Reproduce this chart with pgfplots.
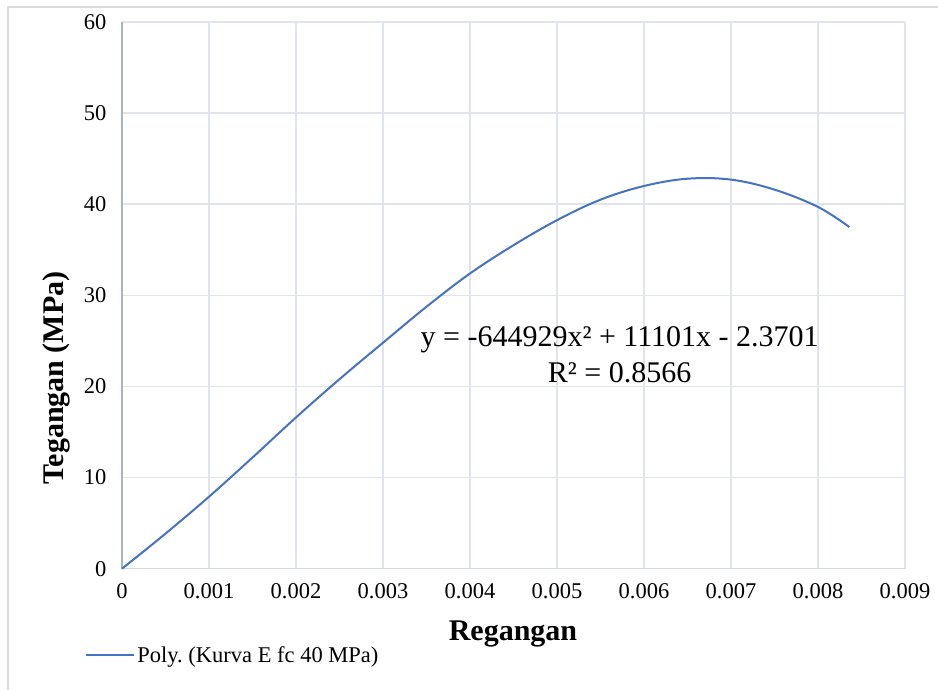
\documentclass[border=0pt]{standalone}
\usepackage{fontspec}
\setmainfont{Liberation Serif}
\usepackage{pgfplots}
\pgfplotsset{compat=1.18}
\definecolor{curveblue}{HTML}{4472C4}
\definecolor{gridgray}{HTML}{E1E4EA}
\definecolor{leftaxis}{HTML}{A9B4C8}
\definecolor{bottomaxis}{HTML}{D3D7DF}
\definecolor{framegray}{HTML}{DADADA}

\begin{document}
\frenchspacing
\begin{tikzpicture}[x=1bp,y=1bp]
\path[use as bounding box] (0,0) rectangle (938,690);
\draw[framegray, line width=1.5bp] (8,0) -- (8,683) -- (938,683);
\begin{axis}[
  at={(122bp,121.3bp)}, anchor=south west,
  scale only axis, width=783bp, height=546.7bp,
  xmin=0, xmax=0.009, ymin=0, ymax=60,
  scaled x ticks=false,
  xtick={0,0.001,0.002,0.003,0.004,0.005,0.006,0.007,0.008,0.009},
  xticklabels={0,0.001,0.002,0.003,0.004,0.005,0.006,0.007,0.008,0.009},
  ytick={0,10,20,30,40,50,60},
  yticklabels={0,10,20,30,40,50,60},
  /pgf/number format/assume math mode=true,
  grid=major,
  major grid style={draw=gridgray, line width=1.5bp},
  axis lines*=left,
  axis line style={-},
  x axis line style={draw=bottomaxis, line width=1.5bp},
  y axis line style={draw=leftaxis, line width=1.5bp},
  tick style={draw=none},
  ticklabel style={font=\fontsize{22.5bp}{27bp}\selectfont},
  xticklabel style={yshift=-11bp},
  yticklabel style={xshift=-12bp},
  legend style={at={(-0.047,-0.158)}, anchor=west, draw=none, fill=none,
    font=\fontsize{22.5bp}{27bp}\selectfont, inner sep=0pt,
    legend cell align=left},
  legend image code/.code={\draw[#1] (0bp,0bp) -- (48bp,0bp);},
  clip=false,
]
% stress-strain curve (strain, stress in MPa)
\addplot[curveblue, line width=2bp, smooth, tension=0.6] coordinates {
  (0,0) (0.0005,3.85) (0.001,7.9) (0.0015,12.2) (0.002,16.6)
  (0.0025,20.8) (0.003,24.8) (0.0035,28.75) (0.004,32.4)
  (0.0045,35.5) (0.005,38.25) (0.0055,40.5) (0.006,42.0)
  (0.0065,42.8) (0.007,42.7) (0.0075,41.6)
  (0.008,39.7) (0.00836,37.5)
};
\addlegendentry{Poly. (Kurva E fc 40 MPa)}
\node[align=center, font=\fontsize{30bp}{36bp}\selectfont]
  at (axis cs:0.00572,23.46)
  {y = -644929x² + 11101x - 2.3701\\R² = 0.8566};
\end{axis}
\node[font=\fontsize{30bp}{36bp}\selectfont\bfseries] at (513,56) {Regangan};
\node[font=\fontsize{30bp}{36bp}\selectfont\bfseries, rotate=90] at (56,312) {Tegangan (MPa)};
\end{tikzpicture}
\end{document}
